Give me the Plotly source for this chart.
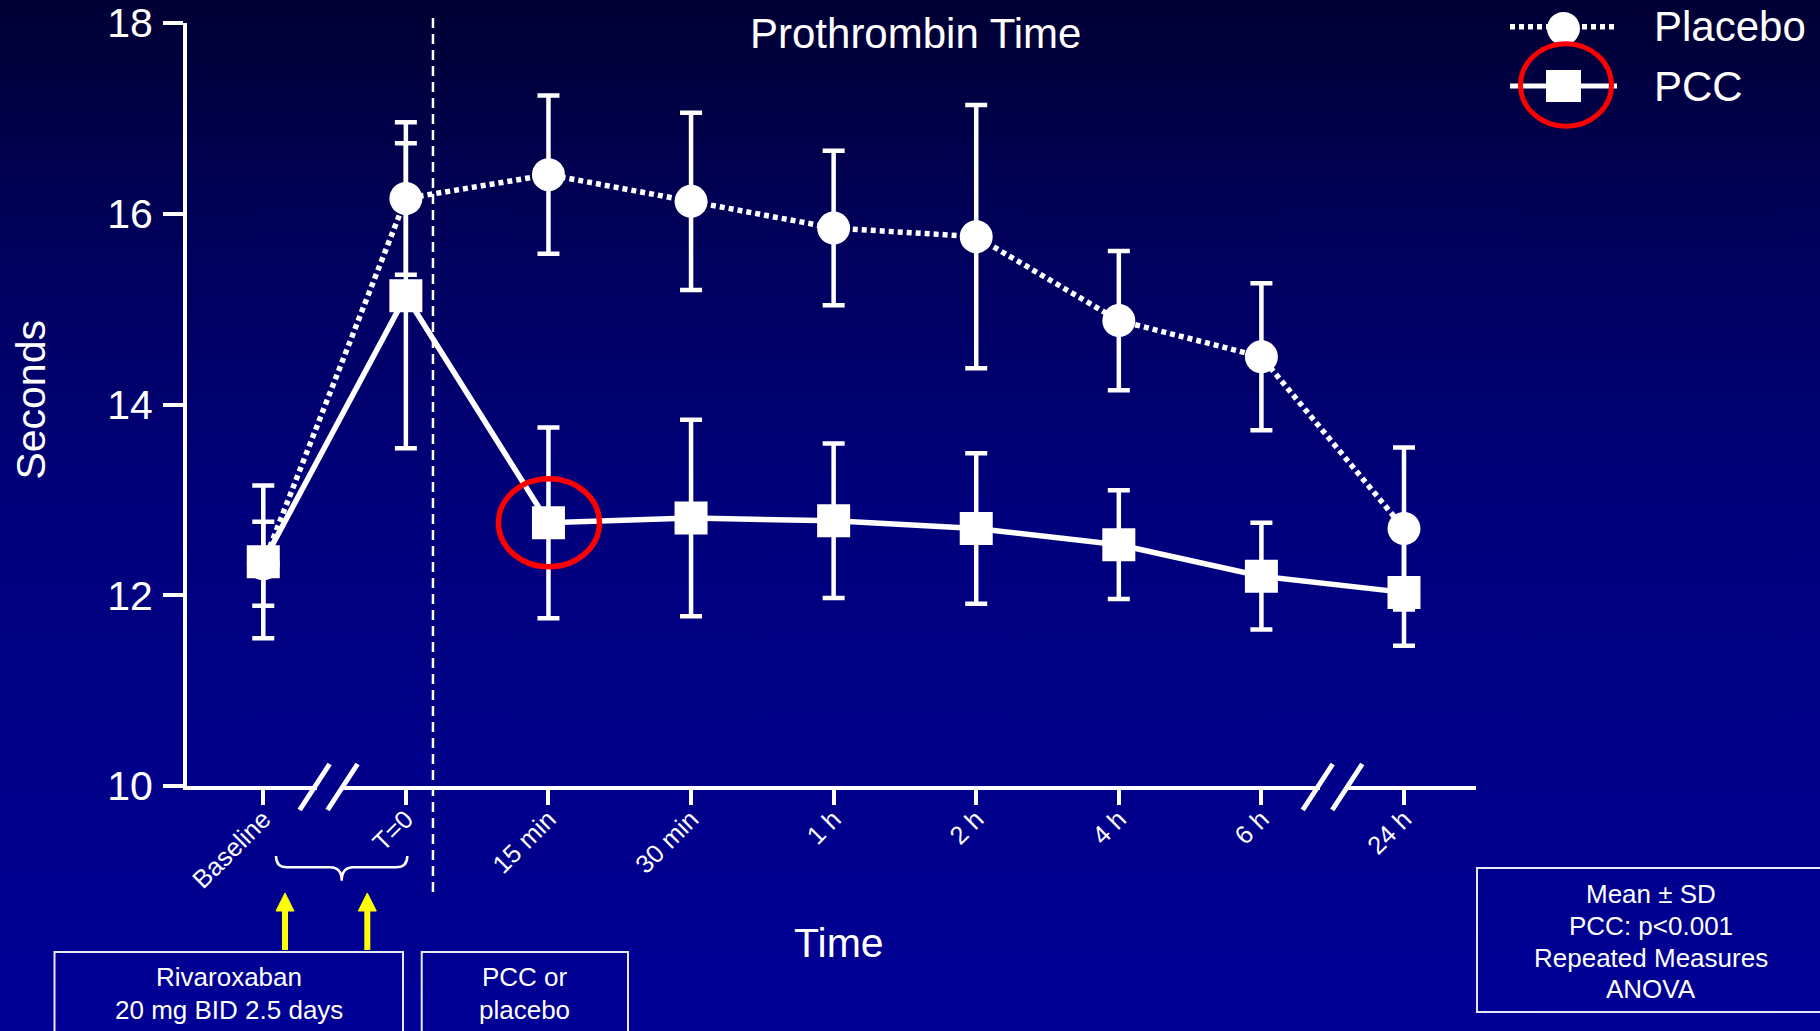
import base64
import plotly.graph_objects as go

# ---------------- data ----------------
categories = ["Baseline", "T=0", "15 min", "30 min", "1 h", "2 h", "4 h", "6 h", "24 h"]
placebo_mean = [12.33, 16.16, 16.41, 16.13, 15.85, 15.76, 14.88, 14.50, 12.70]
placebo_sd = [0.44, 0.80, 0.83, 0.93, 0.81, 1.38, 0.73, 0.77, 0.85]
pcc_mean = [12.35, 15.14, 12.76, 12.81, 12.78, 12.70, 12.53, 12.20, 12.03]
pcc_sd = [0.80, 1.60, 1.00, 1.03, 0.81, 0.79, 0.57, 0.56, 0.56]
y_ticks = [10, 12, 14, 16, 18]
series_names = ["Placebo", "PCC"]
title_text = "Prothrombin Time"
y_title = "Seconds"
x_title = "Time"
box1_lines = ["Rivaroxaban", "20 mg BID 2.5 days"]
box2_lines = ["PCC or", "placebo"]
box3_lines = ["Mean \u00b1 SD", "PCC: p<0.001", "Repeated Measures", "ANOVA"]

# ---------------- layout geometry ----------------
W, H = 1820, 1031
L, R, T, B = 187, 344, 23, 245
PW, PH = W - L - R, H - T - B
FONT = "Liberation Sans, Arial, Helvetica, sans-serif"
xs = list(range(len(categories)))


def px(X):
    return (X - L) / PW


def py(Y):
    return (H - B - Y) / PH


# background gradient (svg data uri)
svg = (
    "<svg xmlns='http://www.w3.org/2000/svg' width='1820' height='1031' "
    "viewBox='0 0 1820 1031' preserveAspectRatio='none'>"
    "<defs><linearGradient id='g' x1='0' y1='0' x2='0' y2='1'>"
    "<stop offset='0' stop-color='#000034'/>"
    "<stop offset='0.25' stop-color='#00005e'/>"
    "<stop offset='0.5' stop-color='#00007c'/>"
    "<stop offset='1' stop-color='#000096'/>"
    "</linearGradient></defs>"
    "<rect x='0' y='0' width='1820' height='1031' fill='url(#g)'/></svg>"
)
bg_uri = "data:image/svg+xml;base64," + base64.b64encode(svg.encode()).decode()

fig = go.Figure()

fig.add_trace(go.Scatter(
    x=xs, y=pcc_mean, name=series_names[1], mode="lines+markers",
    line=dict(color="white", width=5.5),
    marker=dict(symbol="square", size=33, color="white"),
    error_y=dict(type="data", array=pcc_sd, visible=True, color="white",
                 thickness=4.5, width=11),
    cliponaxis=False, showlegend=False,
))
fig.add_trace(go.Scatter(
    x=xs, y=placebo_mean, name=series_names[0], mode="lines+markers",
    line=dict(color="white", width=5.5, dash="5px,4px"),
    marker=dict(symbol="circle", size=33, color="white"),
    error_y=dict(type="data", array=placebo_sd, visible=True, color="white",
                 thickness=4.5, width=11),
    cliponaxis=False, showlegend=False,
))

shapes = []
# dashed separator after T=0
shapes.append(dict(type="line", xref="x", yref="paper", x0=1.19, x1=1.19,
                   y0=py(18), y1=py(892), line=dict(color="white", width=2.5, dash="10px,6px"),
                   layer="above"))
# axis breaks
for gx0, gx1, c1, c2 in [(317, 340, 0.36, 0.556), (1320, 1345, 7.395, 7.602)]:
    shapes.append(dict(type="rect", xref="paper", yref="paper", x0=px(gx0), x1=px(gx1),
                       y0=py(792), y1=py(781), fillcolor="#00008a", line=dict(width=0),
                       layer="above"))
    for c in (c1, c2):
        shapes.append(dict(type="line", xref="x", yref="paper", xsizemode="pixel", ysizemode="pixel",
                           xanchor=c, yanchor=py(787), x0=-15, x1=15, y0=-23, y1=23,
                           line=dict(color="white", width=5), layer="above"))
# red ellipse on 15 min PCC point
shapes.append(dict(type="circle", xref="x", yref="y", xsizemode="pixel", ysizemode="pixel",
                   xanchor=2, yanchor=pcc_mean[2], x0=-50, x1=51, y0=-44, y1=44,
                   line=dict(color="#ff0000", width=5.5), layer="above"))

# legend
shapes.append(dict(type="line", xref="paper", yref="paper", x0=px(1510), x1=px(1617),
                   y0=py(26.7), y1=py(26.7), line=dict(color="white", width=5.5, dash="5px,4px")))
shapes.append(dict(type="circle", xref="paper", yref="paper", x0=px(1547), x1=px(1580),
                   y0=py(12), y1=py(45), fillcolor="white", line=dict(width=0)))
shapes.append(dict(type="line", xref="paper", yref="paper", x0=px(1510), x1=px(1617),
                   y0=py(86), y1=py(86), line=dict(color="white", width=5)))
shapes.append(dict(type="rect", xref="paper", yref="paper", x0=px(1546), x1=px(1581),
                   y0=py(70), y1=py(102), fillcolor="white", line=dict(width=0)))
shapes.append(dict(type="circle", xref="paper", yref="paper", x0=px(1520.5), x1=px(1611.5),
                   y0=py(43.7), y1=py(126.3), line=dict(color="#ff0000", width=5)))


# brace
def P(X, Y):
    return f"{px(X):.5f},{py(Y):.5f}"


brace = (f"M {P(276,856)} Q {P(276,867.3)} {P(287,867.3)} L {P(330,867.3)} "
         f"Q {P(341.7,867.3)} {P(341.7,880.7)} Q {P(341.7,867.3)} {P(353.4,867.3)} "
         f"L {P(396,867.3)} Q {P(407.3,867.3)} {P(407.3,856)}")
shapes.append(dict(type="path", xref="paper", yref="paper", path=brace,
                   line=dict(color="white", width=2.5)))

# yellow arrows
for ax in (285, 367.3):
    shapes.append(dict(type="line", xref="paper", yref="paper", x0=px(ax), x1=px(ax),
                       y0=py(950), y1=py(908), line=dict(color="#ffff00", width=6)))
    shapes.append(dict(type="path", xref="paper", yref="paper",
                       path=f"M {P(ax-9,911)} L {P(ax,893)} L {P(ax+9,911)} Z",
                       fillcolor="#ffff00", line=dict(color="#ffff00", width=1)))

# boxes
for x0, y0, x1, y1 in [(54.5, 952, 403, 1040), (421.7, 952, 628, 1040), (1477, 868, 1830, 1012)]:
    shapes.append(dict(type="rect", xref="paper", yref="paper", x0=px(x0), x1=px(x1),
                       y0=py(y0), y1=py(y1), line=dict(color="#e8e8f4", width=2)))

annotations = []


def text(t, X, Y, size, xanchor="center", angle=0):
    annotations.append(dict(text=t, x=px(X), y=py(Y), xref="paper", yref="paper",
                            xanchor=xanchor, yanchor="middle", showarrow=False,
                            textangle=angle, font=dict(family=FONT, size=size, color="white")))


text(title_text, 915, 33, 42)
text(y_title, 30.6, 400, 41, angle=-90)
text(x_title, 839, 942.5, 41)
text(series_names[0], 1651.7, 26.7, 42, xanchor="left")
text(series_names[1], 1651.7, 86.7, 42, xanchor="left")
for i, t in enumerate(box1_lines):
    text(t, 228.7, 977.3 + 32.5 * i, 26)
for i, t in enumerate(box2_lines):
    text(t, 524.8, 977.3 + 32.5 * i, 26)
for i, t in enumerate(box3_lines):
    text(t, 1650.8, 894.3 + 31.7 * i, 26)

fig.update_layout(
    width=W, height=H,
    margin=dict(l=L, r=R, t=T, b=B, pad=0, autoexpand=False),
    paper_bgcolor="#00006a", plot_bgcolor="rgba(0,0,0,0)",
    font=dict(family=FONT, color="white"),
    images=[dict(source=bg_uri, xref="paper", yref="paper", x=px(0), y=py(0),
                 sizex=W / PW, sizey=H / PH, xanchor="left", yanchor="top",
                 sizing="stretch", layer="below")],
    shapes=shapes, annotations=annotations,
    xaxis=dict(range=[-0.535, 8.505], tickmode="array", tickvals=xs, ticktext=categories,
               tickangle=-45, ticks="outside", ticklen=15, tickwidth=4, tickcolor="white",
               showline=True, linecolor="white", linewidth=4, showgrid=False, zeroline=False,
               automargin=False, ticklabelstandoff=-11,
               tickfont=dict(family=FONT, size=25.5, color="white")),
    yaxis=dict(range=[10, 18], tickmode="array", tickvals=y_ticks,
               ticks="outside", ticklen=20, tickwidth=4, tickcolor="white",
               showline=True, linecolor="white", linewidth=4, showgrid=False, zeroline=False,
               automargin=False, ticklabelstandoff=2,
               tickfont=dict(family=FONT, size=41, color="white")),
    showlegend=False,
)

fig.write_html("out.html", config={"displayModeBar": False},
               post_script="document.body.style.margin='0';document.body.style.overflow='hidden';")
